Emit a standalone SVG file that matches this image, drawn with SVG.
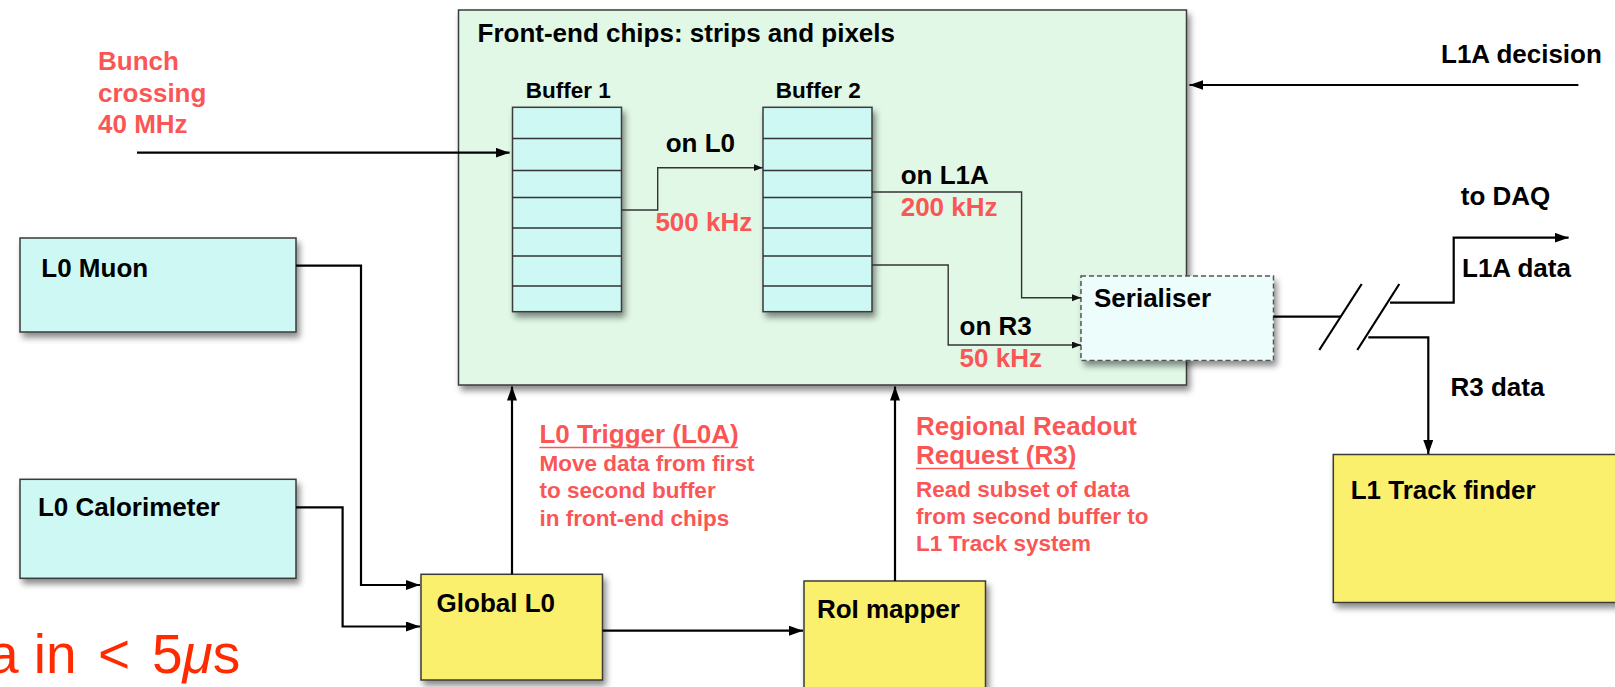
<svg xmlns="http://www.w3.org/2000/svg" width="1615" height="687" viewBox="0 0 1615 687">
<style>
  .t { font-family: "Liberation Sans", Arial, sans-serif; font-weight: bold; font-size: 26px; fill: #000; }
  .s { font-size: 22.5px; }
  .r { fill: #fb5656; }
  .box { stroke: #3a3a3a; stroke-width: 1.5; filter: url(#sh); }
  .cyan { fill: #cef8f3; }
  .yel { fill: #faf06e; }
  .row { stroke: #333; stroke-width: 1.3; }
  .thick { fill: none; stroke: #000; stroke-width: 2.2; }
  .thin { fill: none; stroke: #333; stroke-width: 1.4; }
  .ul { stroke: #fb5656; stroke-width: 1.4; }
</style>
<defs>
  <filter id="sh" x="-10%" y="-10%" width="125%" height="130%">
    <feDropShadow dx="3" dy="5" stdDeviation="3" flood-color="#000" flood-opacity="0.45"/>
  </filter>
  <marker id="ah" markerUnits="userSpaceOnUse" markerWidth="16" markerHeight="12" refX="14" refY="5" orient="auto">
    <path d="M0,0 L14,5 L0,10 z" fill="#000"/>
  </marker>
  <marker id="as" markerUnits="userSpaceOnUse" markerWidth="11" markerHeight="9" refX="9" refY="3.5" orient="auto">
    <path d="M0,0 L9,3.5 L0,7 z" fill="#111"/>
  </marker>
</defs>
<rect width="1615" height="687" fill="#fff"/>

<g id="frontend">
  <rect class="box" x="458.5" y="10" width="728" height="375" fill="#e1f8e6"/>
  <text class="t" x="477.5" y="42.3">Front-end chips: strips and pixels</text>
</g>

<g id="buffer1">
  <rect class="box cyan" x="512.5" y="107.3" width="109" height="204.4"/>
  <line class="row" x1="512.5" y1="138.5" x2="621.5" y2="138.5"/>
  <line class="row" x1="512.5" y1="170.5" x2="621.5" y2="170.5"/>
  <line class="row" x1="512.5" y1="197.5" x2="621.5" y2="197.5"/>
  <line class="row" x1="512.5" y1="228" x2="621.5" y2="228"/>
  <line class="row" x1="512.5" y1="256" x2="621.5" y2="256"/>
  <line class="row" x1="512.5" y1="286" x2="621.5" y2="286"/>
  <text class="t s" x="525.7" y="98.3">Buffer 1</text>
</g>

<g id="buffer2">
  <rect class="box cyan" x="763" y="107.3" width="109" height="204.4"/>
  <line class="row" x1="763" y1="138.5" x2="872" y2="138.5"/>
  <line class="row" x1="763" y1="170.5" x2="872" y2="170.5"/>
  <line class="row" x1="763" y1="197.5" x2="872" y2="197.5"/>
  <line class="row" x1="763" y1="228" x2="872" y2="228"/>
  <line class="row" x1="763" y1="256" x2="872" y2="256"/>
  <line class="row" x1="763" y1="286" x2="872" y2="286"/>
  <text class="t s" x="775.7" y="98.3">Buffer 2</text>
</g>

<g id="serialiser">
  <rect x="1081" y="276" width="192.5" height="84.5" fill="#edfdfc" stroke="#555" stroke-width="1.5" stroke-dasharray="5,3" filter="url(#sh)"/>
  <text class="t" x="1094" y="307.3">Serialiser</text>
</g>

<g id="l0muon">
  <rect class="box cyan" x="20" y="238" width="276" height="94"/>
  <text class="t" x="41.3" y="276.7">L0 Muon</text>
</g>

<g id="l0calo">
  <rect class="box cyan" x="20" y="479.3" width="276" height="99"/>
  <text class="t" x="37.9" y="516">L0 Calorimeter</text>
</g>

<g id="globall0">
  <rect class="box yel" x="421" y="574.3" width="181.5" height="105.7"/>
  <text class="t" x="436.6" y="611.7">Global L0</text>
</g>

<g id="roimapper">
  <rect class="box yel" x="804" y="581" width="181.5" height="110"/>
  <text class="t" x="816.9" y="618.3">RoI mapper</text>
</g>

<g id="l1track">
  <rect class="box yel" x="1333.3" y="454.5" width="290" height="148"/>
  <text class="t" x="1350.7" y="499">L1 Track finder</text>
</g>

<g id="connectors">
  <path class="thick" d="M137,152.7 H509.6" marker-end="url(#ah)"/>
  <path class="thick" d="M1578.4,85 H1189.4" marker-end="url(#ah)"/>
  <path class="thick" d="M296,265.7 H361 V585 H420" marker-end="url(#ah)"/>
  <path class="thick" d="M296,507.3 H342.6 V626.5 H420" marker-end="url(#ah)"/>
  <path class="thick" d="M512,574.3 V386.5" marker-end="url(#ah)"/>
  <path class="thick" d="M895,581 V386.5" marker-end="url(#ah)"/>
  <path class="thick" d="M602.5,630.7 H803" marker-end="url(#ah)"/>
  <path class="thin" d="M621.7,210 H657.7 V167.7 H762.7" marker-end="url(#as)"/>
  <path class="thin" d="M872,192 H1021.6 V297.7 H1081" marker-end="url(#as)"/>
  <path class="thin" d="M872,265 H948.2 V345 H1081" marker-end="url(#as)"/>
  <path class="thick" d="M1273.5,316.7 H1340.7"/>
  <path class="thick" d="M1319.3,350 L1361.7,284"/>
  <path class="thick" d="M1357.3,350 L1399.3,284"/>
  <path class="thick" d="M1390,302.7 H1453.7 V237.7 H1568.6" marker-end="url(#ah)"/>
  <path class="thick" d="M1368.3,337.3 H1428.3 V454" marker-end="url(#ah)"/>
</g>

<g id="labels">
  <text class="t r" x="98" y="70">Bunch</text>
  <text class="t r" x="98" y="101.7">crossing</text>
  <text class="t r" x="98" y="133.3">40 MHz</text>
  <text class="t" x="665.7" y="152.3">on L0</text>
  <text class="t r" x="655.4" y="231">500 kHz</text>
  <text class="t" x="900.7" y="184.3">on L1A</text>
  <text class="t r" x="900.7" y="216">200 kHz</text>
  <text class="t" x="959.6" y="335">on R3</text>
  <text class="t r" x="959.6" y="366.7">50 kHz</text>
  <text class="t" x="1441" y="63.3">L1A decision</text>
  <text class="t" x="1460.8" y="205">to DAQ</text>
  <text class="t" x="1462" y="276.7">L1A data</text>
  <text class="t" x="1450.5" y="395.5">R3 data</text>
  <text class="t r" x="539.4" y="443.3">L0 Trigger (L0A)</text>
  <line class="ul" x1="539.4" y1="447.5" x2="738" y2="447.5"/>
  <text class="t r s" x="539.4" y="470.7">Move data from first</text>
  <text class="t r s" x="539.4" y="498.3">to second buffer</text>
  <text class="t r s" x="539.4" y="526">in front-end chips</text>
  <text class="t r" x="916" y="434.5">Regional Readout</text>
  <text class="t r" x="916" y="464.3">Request (R3)</text>
  <line class="ul" x1="916" y1="468.5" x2="1075" y2="468.5"/>
  <text class="t r s" x="916" y="496.7">Read subset of data</text>
  <text class="t r s" x="916" y="524">from second buffer to</text>
  <text class="t r s" x="916" y="550.7">L1 Track system</text>
  <text x="-12" y="673.3" font-family="'Liberation Sans', Arial, sans-serif" font-size="55" fill="#ff2a00">a in<tspan x="98">&lt;</tspan><tspan x="152">5</tspan><tspan font-style="italic">μ</tspan>s</text>
</g>
</svg>
